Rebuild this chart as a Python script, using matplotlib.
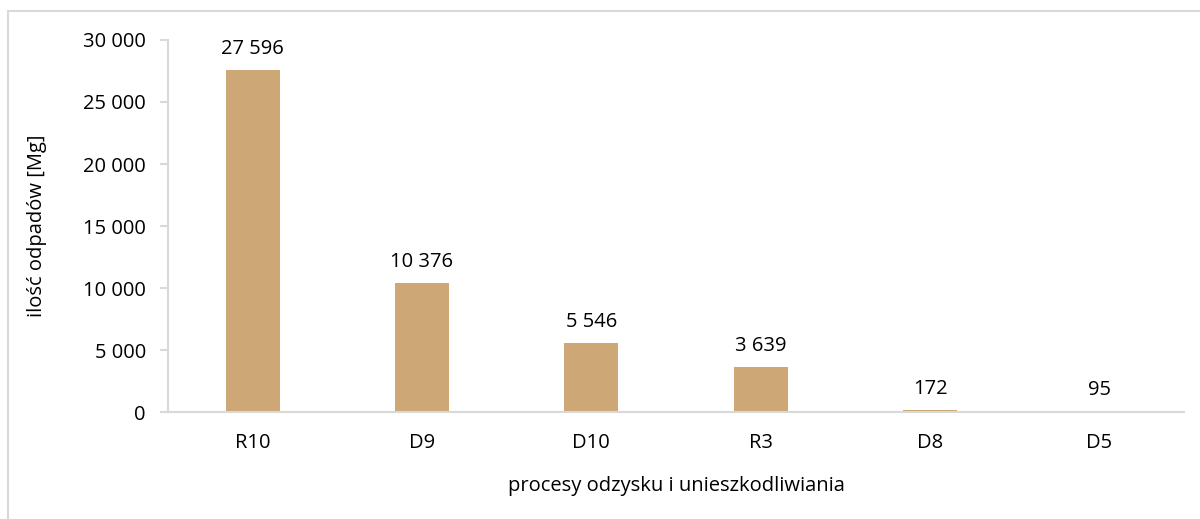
import matplotlib
matplotlib.use('Agg')
import matplotlib.pyplot as plt
from matplotlib.patches import Rectangle
from matplotlib.ticker import FuncFormatter

plt.rcParams['font.family'] = ['Open Sans', 'DejaVu Sans']

procesy = ['R10', 'D9', 'D10', 'R3', 'D8', 'D5']
ilosc = [27596, 10376, 5546, 3639, 172, 95]
yticks = [0, 5000, 10000, 15000, 20000, 25000, 30000]

FS = 14.5
W, H = 1200, 519
fig = plt.figure(figsize=(W / 100, H / 100), dpi=100)

# ramka wykresu (jak w arkuszu)
fig.patches.append(Rectangle((7.5 / W, -0.1), 1.2, 1 - 10.5 / H + 0.1,
                             transform=fig.transFigure, fill=False,
                             edgecolor='#d9d9d9', linewidth=1.5))

ax = fig.add_axes([168 / W, 1 - 412 / H, (1184 - 168) / W, (412 - 40) / H])
x = range(len(procesy))
ax.bar(x, ilosc, width=0.32, color='#CDA776', edgecolor='none')

def fmt(v, pos=None):
    return '{:,}'.format(int(v)).replace(',', ' ')

for xi, v in zip(x, ilosc):
    ax.annotate(fmt(v), (xi, v), xytext=(0, 8), textcoords='offset points',
                ha='center', va='bottom', fontsize=FS)

ax.set_xlim(-0.5, len(procesy) - 0.5)
ax.set_ylim(0, 30000)
ax.set_yticks(yticks)
ax.yaxis.set_major_formatter(FuncFormatter(fmt))
ax.set_xticks(list(x))
ax.set_xticklabels(procesy)

for s in ['top', 'right']:
    ax.spines[s].set_visible(False)
for s in ['left', 'bottom']:
    ax.spines[s].set_color('#d9d9d9')
    ax.spines[s].set_linewidth(1.5)
ax.tick_params(axis='y', length=6, width=1.5, color='#d9d9d9', labelsize=FS, pad=10)
ax.tick_params(axis='x', length=0, labelsize=FS, pad=15)

ax.set_xlabel('procesy odzysku i unieszkodliwiania', fontsize=FS, labelpad=17)
ax.set_ylabel('ilość odpadów [Mg]', fontsize=FS, labelpad=26)

fig.savefig('out.png', dpi=100)
